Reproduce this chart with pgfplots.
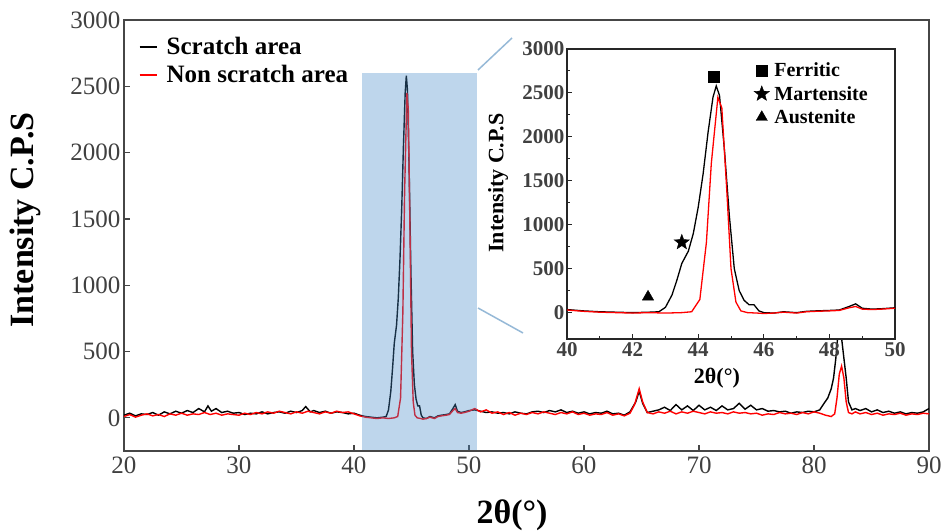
\documentclass[border=0pt]{standalone}
\usepackage{pgfplots}
\pgfplotsset{compat=1.18}
\usepackage{pgfplotstable}
\usepackage{fontspec}
\setmainfont{Liberation Serif}
\definecolor{rectblue}{RGB}{69,138,200}
\definecolor{connblue}{RGB}{150,185,215}
\definecolor{axgray}{RGB}{70,70,70}

\pgfdeclareplotmark{fstar}{%
  \pgfpathmoveto{\pgfpointpolar{90}{\pgfplotmarksize}}%
  \pgfpathlineto{\pgfpointpolar{126}{0.42\pgfplotmarksize}}%
  \pgfpathlineto{\pgfpointpolar{162}{\pgfplotmarksize}}%
  \pgfpathlineto{\pgfpointpolar{198}{0.42\pgfplotmarksize}}%
  \pgfpathlineto{\pgfpointpolar{234}{\pgfplotmarksize}}%
  \pgfpathlineto{\pgfpointpolar{270}{0.42\pgfplotmarksize}}%
  \pgfpathlineto{\pgfpointpolar{306}{\pgfplotmarksize}}%
  \pgfpathlineto{\pgfpointpolar{342}{0.42\pgfplotmarksize}}%
  \pgfpathlineto{\pgfpointpolar{18}{\pgfplotmarksize}}%
  \pgfpathlineto{\pgfpointpolar{54}{0.42\pgfplotmarksize}}%
  \pgfpathclose
  \pgfusepathqfillstroke}

\pgfplotstableread{
x y
20.0 20
20.5 35
21.0 15
21.5 30
22.0 25
22.5 40
23.0 20
23.5 45
24.0 30
24.5 50
25.0 35
25.5 55
26.0 40
26.5 70
27.0 45
27.3 90
27.6 50
28.0 70
28.5 40
29.0 50
29.5 35
30.0 40
30.5 25
31.0 35
31.5 30
32.0 45
32.5 30
33.0 40
33.5 45
34.0 35
34.5 50
35.0 40
35.5 55
35.8 85
36.2 45
36.5 55
37.0 40
37.5 50
38.0 35
38.5 45
39.0 40
39.5 30
40.0 35
40.5 20
41.0 10
41.5 5
42.0 0
42.5 5
42.8 10
43.0 60
43.2 200
43.35 370
43.5 560
43.7 700
43.85 900
44.0 1200
44.15 1580
44.3 2050
44.45 2450
44.55 2580
44.65 2470
44.8 1850
44.95 1100
45.1 500
45.25 250
45.4 140
45.55 90
45.7 90
45.85 20
46.0 0
46.3 -5
46.6 10
47.0 0
47.3 15
47.6 20
48.0 25
48.3 30
48.6 70
48.8 100
49.0 50
49.3 40
49.6 45
50.0 55
50.5 60
51.0 50
51.5 40
52.0 45
52.5 35
53.0 40
53.5 30
54.0 45
54.5 35
55.0 30
55.5 45
56.0 50
56.5 40
57.0 55
57.5 45
58.0 60
58.5 40
59.0 50
59.5 35
60.0 45
60.5 30
61.0 40
61.5 35
62.0 50
62.5 30
63.0 35
63.5 20
64.0 45
64.5 120
64.8 200
65.1 110
65.5 40
66.0 50
66.5 60
67.0 80
67.5 55
68.0 100
68.5 60
69.0 90
69.5 55
70.0 95
70.5 60
71.0 80
71.5 55
72.0 90
72.5 60
73.0 70
73.5 110
74.0 65
74.5 95
75.0 60
75.5 70
76.0 50
76.5 55
77.0 45
77.5 50
78.0 35
78.5 45
79.0 40
79.5 50
80.0 45
80.5 60
80.8 100
81.2 150
81.5 220
81.7 300
81.9 450
82.05 600
82.2 680
82.4 600
82.6 450
82.8 300
83.0 120
83.3 60
83.6 70
84.0 55
84.5 70
85.0 45
85.5 60
86.0 40
86.5 50
87.0 35
87.5 45
88.0 30
88.5 40
89.0 35
89.5 45
90.0 70
}\blackdata

\pgfplotstableread{
x y
20.0 10
20.5 25
21.0 5
21.5 20
22.0 30
22.5 15
23.0 25
23.5 10
24.0 30
24.5 20
25.0 35
25.5 20
26.0 30
26.5 25
27.0 40
27.5 25
28.0 35
28.5 20
29.0 30
29.5 25
30.0 20
30.5 35
31.0 25
31.5 40
32.0 30
32.5 45
33.0 35
33.5 50
34.0 40
34.5 30
35.0 45
35.5 35
36.0 50
36.5 40
37.0 30
37.5 45
38.0 35
38.5 50
39.0 40
39.5 45
40.0 30
40.5 15
41.0 5
41.5 0
42.0 -5
42.5 0
43.0 -5
43.5 0
43.8 10
44.05 150
44.25 800
44.4 1700
44.6 2450
44.72 2330
44.87 1400
45.0 500
45.15 120
45.3 20
45.5 0
45.8 -5
46.0 -10
46.3 -5
46.6 5
47.0 -5
47.3 10
47.6 15
48.0 20
48.3 25
48.6 55
48.8 70
49.0 40
49.3 35
49.6 40
50.0 50
50.5 70
51.0 45
51.5 60
52.0 35
52.5 45
53.0 25
53.5 40
54.0 20
54.5 35
55.0 25
55.5 40
56.0 30
56.5 45
57.0 35
57.5 25
58.0 40
58.5 30
59.0 45
59.5 25
60.0 35
60.5 20
61.0 30
61.5 25
62.0 40
62.5 20
63.0 30
63.5 15
64.0 35
64.4 100
64.8 220
65.1 120
65.5 40
66.0 30
66.5 45
67.0 35
67.5 50
68.0 30
68.5 45
69.0 35
69.5 50
70.0 40
70.5 30
71.0 45
71.5 35
72.0 40
72.5 30
73.0 45
73.5 35
74.0 40
74.5 30
75.0 35
75.5 20
76.0 30
76.5 25
77.0 40
77.5 30
78.0 35
78.5 25
79.0 40
79.5 30
80.0 45
80.5 35
81.0 20
81.5 10
81.8 30
82.0 150
82.2 330
82.4 390
82.6 300
82.8 120
83.0 40
83.3 30
83.6 45
84.0 30
84.5 40
85.0 25
85.5 35
86.0 20
86.5 30
87.0 25
87.5 35
88.0 20
88.5 30
89.0 25
89.5 35
90.0 30
}\reddata

\begin{document}
\begin{tikzpicture}[x=1pt,y=1pt]
\path[use as bounding box] (-124pt,-81pt) rectangle (819pt,451pt);
\begin{axis}[
  at={(0pt,0pt)}, anchor=south west, scale only axis,
  width=805pt, height=431pt,
  xmin=20, xmax=90, ymin=-250, ymax=3000,
  xtick={20,30,...,90}, ytick={0,500,...,3000},
  tick align=inside, xtick pos=bottom, ytick pos=left,
  major tick length=6pt,
  axis line style={line width=1.6pt, color=axgray},
  every tick/.style={line width=1.2pt, color=axgray},
  /pgf/number format/assume math mode=true,
  /pgf/number format/1000 sep={},
  ticklabel style={font=\fontsize{25}{25}\selectfont, text=black!75},
  xticklabel style={yshift=-2pt},
  xlabel={2θ(°)}, ylabel={Intensity C.P.S},
  xlabel style={font=\fontsize{34}{34}\selectfont\bfseries, at={(axis description cs:0.482,-0.148)}, anchor=center},
  ylabel style={font=\fontsize{34}{34}\selectfont\bfseries, at={(axis description cs:-0.123,0.536)}, anchor=center, rotate=0},
  legend style={at={(0.018,0.965)}, anchor=north west, draw=none, fill=none,
    font=\fontsize{25}{25}\selectfont\bfseries, row sep=5pt, inner sep=0pt,
    nodes={inner xsep=9pt}},
  legend cell align=left,
  legend image code/.code={\draw[#1, line width=2pt] (0pt,0pt) -- (17pt,0pt);},
]
\addplot[black, line width=1.4pt] table {\blackdata};
\addlegendentry{Scratch area}
\addplot[red, line width=1.4pt] table {\reddata};
\addlegendentry{Non scratch area}
\fill[rectblue, fill opacity=0.35] (axis cs:40.7,-245) rectangle (axis cs:50.7,2600);
\end{axis}
\draw[connblue, line width=1.5pt] (354pt,381pt) -- (388pt,413pt);
\draw[connblue, line width=1.5pt] (354pt,143pt) -- (399pt,118pt);
\begin{axis}[
  at={(443pt,112pt)}, anchor=south west, scale only axis,
  width=328pt, height=290pt,
  xmin=40, xmax=50, ymin=-300, ymax=3000,
  xtick={40,42,...,50}, ytick={0,500,...,3000},
  minor x tick num=1, minor y tick num=1,
  tick align=inside, xtick pos=bottom, ytick pos=left,
  major tick length=5pt, minor tick length=3pt,
  axis background/.style={fill=white},
  axis line style={line width=1.5pt, color=black!85},
  every tick/.style={line width=1pt, color=black!85},
  /pgf/number format/assume math mode=true,
  /pgf/number format/1000 sep={},
  ticklabel style={font=\fontsize{21}{21}\selectfont\bfseries, text=black!75},
  yticklabel style={xshift=1pt},
  xlabel={2θ(°)}, ylabel={Intensity C.P.S},
  xlabel style={font=\fontsize{22}{22}\selectfont\bfseries, at={(axis description cs:0.457,-0.134)}, anchor=center},
  ylabel style={font=\fontsize{22}{22}\selectfont\bfseries, at={(axis description cs:-0.21,0.538)}, anchor=center, rotate=0},
  legend style={at={(0.57,0.96)}, anchor=north west, draw=none, fill=none,
    font=\fontsize{20}{20}\selectfont\bfseries, row sep=4pt, inner sep=0pt,
    nodes={inner xsep=5pt}},
  legend cell align=left,
]
\addplot[black, line width=1.3pt, forget plot] table {\blackdata};
\addplot[red, line width=1.3pt, forget plot] table {\reddata};
\addplot[only marks, mark=square*, mark size=5.5pt, black] coordinates {(44.48,2680)};
\addlegendentry{Ferritic}
\addplot[only marks, mark=fstar, mark size=8pt, black, mark options={fill=black}] coordinates {(43.5,800)};
\addlegendentry{Martensite}
\addplot[only marks, mark=triangle*, mark size=6.5pt, black] coordinates {(42.47,180)};
\addlegendentry{Austenite}
\end{axis}
\end{tikzpicture}
\end{document}
